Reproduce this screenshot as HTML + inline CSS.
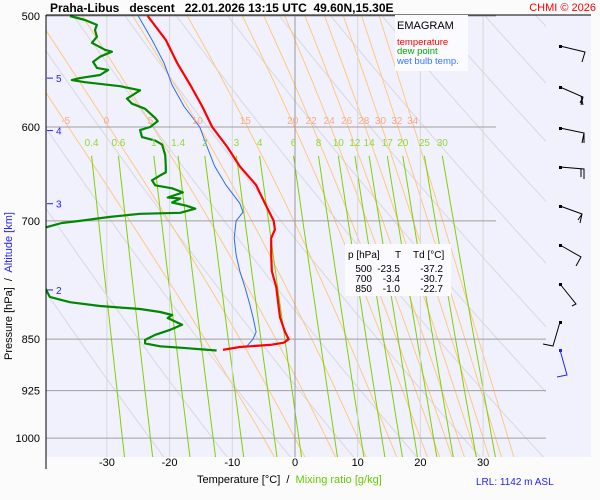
<!DOCTYPE html>
<html><head><meta charset="utf-8"><style>
body{margin:0;background:#fbfbfb;}
svg{display:block;font-family:"Liberation Sans",sans-serif;}
text{white-space:pre;}
</style></head><body>
<svg id="c" width="600" height="500" xmlns="http://www.w3.org/2000/svg">
<rect x="0" y="0" width="600" height="500" fill="#fbfbfb"/>
<rect x="46" y="15" width="545" height="442" fill="#f1f1fd"/>
<defs><clipPath id="clip"><rect x="46" y="15" width="500" height="442"/></clipPath></defs>
<g id="bg" clip-path="url(#clip)"></g>
<g id="grid"></g>
<g id="series" clip-path="url(#clip)"></g>
<g id="labels"></g>
<line x1="46" y1="15" x2="591" y2="15" stroke="#000"/>
<line x1="46" y1="15" x2="46" y2="469" stroke="#000"/>
<text x="50" y="12" font-size="12" font-weight="bold">Praha-Libus   descent   22.01.2026 13:15 UTC  49.60N,15.30E</text>
<text x="596" y="11" font-size="11" fill="#f00" text-anchor="end">CHMI © 2026</text>
<rect x="395" y="15" width="73" height="56" fill="#fafaff"/>
<text x="397" y="29" font-size="11">EMAGRAM</text>
<text x="397" y="45" font-size="9.5" fill="#f00">temperature</text>
<text x="397" y="54" font-size="9.5" fill="#0a0">dew point</text>
<text x="397" y="64" font-size="9.5" fill="#37f">wet bulb temp.</text>
<rect x="345" y="244" width="106" height="52" fill="#fafaff"/>
<g font-size="10">
<text x="348" y="258">p [hPa]</text><text x="398" y="258" text-anchor="middle">T</text><text x="413" y="258">Td [°C]</text>
<text x="372" y="272" text-anchor="end">500</text><text x="400" y="272" text-anchor="end">-23.5</text><text x="443" y="272" text-anchor="end">-37.2</text>
<text x="372" y="282" text-anchor="end">700</text><text x="400" y="282" text-anchor="end">-3.4</text><text x="443" y="282" text-anchor="end">-30.7</text>
<text x="372" y="292" text-anchor="end">850</text><text x="400" y="292" text-anchor="end">-1.0</text><text x="443" y="292" text-anchor="end">-22.7</text>
</g>
<text x="197" y="483" font-size="11">Temperature [°C]  /  <tspan fill="#6c0">Mixing ratio [g/kg]</tspan></text>
<text x="476" y="485" font-size="10" fill="#22f">LRL: 1142 m ASL</text>
<text transform="translate(12,360) rotate(-90)" font-size="11">Pressure [hPa]  /  <tspan fill="#22f">Altitude [km]</tspan></text>
<g id="barbs" stroke="#000" fill="none" stroke-width="1">
<path d="M560,46 L585,52 L582,62"/>
<path d="M560,87 L583,97 L581,105 M583,97 L580,103 M581,96 L583,105"/>
<path d="M560,128 L584,133 L582,143 M584,133 L584,143"/>
<path d="M560,167 L584,169 L584,179 M581,169 L581,177"/>
<path d="M560,206 L582,214 L580,223 M582,214 L578,220"/>
<path d="M560,245 L581,257 L576,266"/>
<path d="M560,284 L576,304 L572,306"/>
<path d="M560,322 L553,346 L543,344"/>
<path d="M560,350 L567,375 L557,377" stroke="#22f"/>
<g fill="#000" stroke="none"><rect x="559" y="45" width="3" height="3"/><rect x="559" y="86" width="3" height="3"/><rect x="559" y="127" width="3" height="3"/><rect x="559" y="166" width="3" height="3"/><rect x="559" y="205" width="3" height="3"/><rect x="559" y="244" width="3" height="3"/><rect x="559" y="283" width="3" height="3"/><rect x="559" y="321" width="3" height="3"/><rect x="559" y="349" width="3" height="3" fill="#22f"/></g>
</g>
</svg>
<script>
// ---- data ----
const tempP = [500,520,540,560,580,600,620,640,660,680,700,710,720,740,760,780,800,820,840,850,855,858,861,865];
const tempT = [-23.5,-20.6,-18.8,-16.7,-14.8,-13.2,-10.8,-8.8,-6.2,-4.8,-3.4,-3.2,-3.8,-3.8,-3.7,-3.0,-2.7,-2.4,-1.6,-1.0,-1.8,-4,-8.8,-11.5];
const wetP = [500,520,540,560,580,600,620,640,660,680,690,700,720,740,760,780,800,820,840,850,860,865];
const wetT = [-25,-22.8,-20.9,-19.6,-17.7,-15.2,-14,-12.8,-11,-8.8,-8.3,-9.4,-9.7,-9.4,-8.8,-8,-7.3,-6.7,-6.2,-6.7,-7.7,-11.2];
const dewP = [500,503.3,507.4,511.6,517.4,522.5,528.5,530.2,534.6,539.1,544.5,546.3,550.9,553.7,555.5,557.4,561.1,564.9,569.7,572.6,577.4,582.3,591.2,594.2,600,603,610,613.5,617.6,628.2,639.6,646.4,649.6,654.8,660.2,663.5,668,673.6,674.7,679.2,682.6,686.1,690.7,691.9,695.4,700,702.4,720,770,779,793,800,805,809,813,817,821,830,837,844,851,856,860,862,866];
const dewT = [-35.9,-33.5,-31.6,-31.9,-31.6,-32.4,-30.3,-29.2,-31.1,-32.2,-31.6,-29.8,-31.1,-34.3,-35.6,-33.5,-27.9,-24.7,-26,-26.8,-26,-23.9,-22.3,-21.9,-23.1,-24.7,-24.4,-22.3,-21.2,-20.7,-20.6,-20.6,-21.5,-22.8,-22.3,-19.6,-17.9,-20.3,-18.3,-19.6,-17.4,-15.9,-18.3,-24.7,-29.5,-34.3,-37.2,-46,-46,-40,-39.1,-35.9,-31.1,-24.7,-21.5,-19.6,-20.3,-18,-19.9,-22.3,-23.9,-23.9,-21.5,-18.3,-12.5];
const pLevels = [500,600,700,850,925,1000];
const tTicks = [-30,-20,-10,0,10,20,30];
const altKm = [5,4,3,2];
const altP = [553.7,603.5,680.5,784];
const mixRatios = [0.4,0.6,1,1.4,2,3,4,6,8,10,12,14,17,20,25,30];
const moistThetaW = [-5,0,5,10,15,20,22,24,26,28,30,32,34];
const dryTheta = [250,260,270,280,290,300,310,320,330,340,350,360,370,380,390,400,410,420];

// ---- axes ----
const X = t => 295 + 6.27*t;
const Y = p => 16 + 609*Math.log(p/500);
const NS='http://www.w3.org/2000/svg';
function mk(tag, attrs, parent){const e=document.createElementNS(NS,tag);for(const k in attrs)e.setAttribute(k,attrs[k]);parent.appendChild(e);return e;}
const bg=document.getElementById('bg'), grid=document.getElementById('grid'), ser=document.getElementById('series'), lab=document.getElementById('labels');
function path(ps,ts){return ps.map((p,i)=>(i?'L':'M')+X(ts[i]).toFixed(1)+','+Y(p).toFixed(1)).join(' ');}
const es = t => 6.112*Math.exp(17.67*t/(t+243.5));
dryTheta.forEach(th=>{
  const ps=[],ts=[];for(let p=450;p<=1060;p+=10){ps.push(p);ts.push(th*Math.pow(p/1000,0.286)-273.15);}
  const e=mk('path',{d:path(ps,ts),stroke:'#d8d8e0','stroke-width':1,fill:'none'},bg);
  
  
});
moistThetaW.forEach(tw=>{
  let T=tw+273.15;const ps=[1000],ts=[tw];
  for(let p=1000;p>450;p-=2){const tc=T-273.15;const e0=es(tc);const rs=0.622*e0/(p-e0);
    const dTdp=(287*T+2.5e6*rs)/(p*(1005+2.5e6*2.5e6*rs*0.622/(287*T*T)));T-=dTdp*2;ps.push(p-2);ts.push(T-273.15);}
  let T2=tw+273.15;const ps2=[],ts2=[];
  for(let p=1000;p<1060;p+=2){const tc=T2-273.15;const e0=es(tc);const rs=0.622*e0/(p-e0);
    const dTdp=(287*T2+2.5e6*rs)/(p*(1005+2.5e6*2.5e6*rs*0.622/(287*T2*T2)));T2+=dTdp*2;ps2.push(p+2);ts2.push(T2-273.15);}
  const P=ps2.reverse().concat(ps),TT=ts2.reverse().concat(ts);
  const e=mk('path',{d:path(P,TT),stroke:'#ffc880','stroke-width':1,fill:'none'},bg);
  
  
  let best=0;for(let i=0;i<P.length;i++)if(Math.abs(P[i]-595)<Math.abs(P[best]-595))best=i;
  const t=mk('text',{x:X(TT[best]),y:124,'font-size':10,fill:'#f9a88c','text-anchor':'middle'},lab);t.textContent=tw;
  
  
});
mixRatios.forEach(w=>{
  const ps=[],ts=[];for(let p=629;p<=1060;p+=10){const e0=w*p/(622+w);const l=Math.log(e0/6.112);ps.push(p);ts.push(243.5*l/(17.67-l));}
  const e=mk('path',{d:path(ps,ts),stroke:'#80d000','stroke-width':1,fill:'none'},bg);
  
  
  const t=mk('text',{x:X(ts[0]),y:146,'font-size':10,fill:'#90d830','text-anchor':'middle'},lab);t.textContent=w;
  
  
});
tTicks.forEach(t=>{
  const l=mk('line',{x1:X(t),y1:15,x2:X(t),y2:457,stroke:t===0?'#999':'#d8d8d8','stroke-width':1},bg);
  
  
  const tx=mk('text',{x:X(t),y:466,'font-size':11,'text-anchor':'middle'},lab);tx.textContent=t;
  
  
});
pLevels.forEach(p=>{
  const l=mk('line',{x1:46,y1:Y(p),x2:p<800?496:546,y2:Y(p),stroke:'#a0a0a0','stroke-width':1},grid);
  
  
  const tx=mk('text',{x:40,y:Y(p)+4,'font-size':11,'text-anchor':'end'},lab);tx.textContent=p;
  
  
});
altKm.forEach((k,i)=>{
  const l=mk('line',{x1:47,y1:Y(altP[i]),x2:53,y2:Y(altP[i]),stroke:'#22f'},lab);
  
  
  const tx=mk('text',{x:56,y:Y(altP[i])+4,'font-size':10,fill:'#22f'},lab);tx.textContent=k;
  
  
});
const w=mk('path',{d:path(wetP,wetT),stroke:'#2a6cf0','stroke-width':1,fill:'none'},ser);


const d=mk('path',{d:path(dewP,dewT),stroke:'#080','stroke-width':2.2,fill:'none','stroke-linejoin':'round'},ser);


const r=mk('path',{d:path(tempP,tempT),stroke:'#f00','stroke-width':2.2,fill:'none','stroke-linejoin':'round'},ser);


</script>
</body></html>
